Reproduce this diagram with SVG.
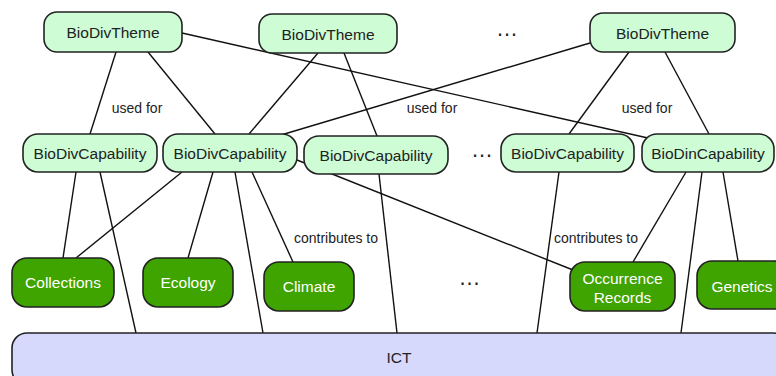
<svg xmlns="http://www.w3.org/2000/svg" width="776" height="376" viewBox="0 0 776 376">
<style>
.lt{fill:#cdfcd5;stroke:#222;stroke-width:1.6}
.dk{fill:#3fa300;stroke:#222;stroke-width:1.6}
.ict{fill:#d6d8fc;stroke:#222;stroke-width:1.6}
text{font-family:"Liberation Sans",Arial,sans-serif;text-anchor:middle}
.t{font-size:15.5px;fill:#222}
.w{font-size:15.5px;fill:#fff}
.lbl{font-size:14px;fill:#222}
.dots{font-size:22px;fill:#222}
#connectors line{stroke:#111;stroke-width:1.4}
</style>
<rect width="776" height="376" fill="#fff"/>
<g id="connectors">
<line x1="116" y1="52" x2="90" y2="134"/>
<line x1="148" y1="52" x2="215" y2="134"/>
<line x1="182" y1="33" x2="648" y2="138"/>
<line x1="318" y1="53" x2="249" y2="134"/>
<line x1="344" y1="53" x2="377" y2="136"/>
<line x1="590" y1="43" x2="281" y2="135"/>
<line x1="629" y1="52" x2="569" y2="134"/>
<line x1="665" y1="52" x2="709" y2="134"/>
<line x1="76" y1="172" x2="63" y2="258"/>
<line x1="100" y1="172" x2="136" y2="333"/>
<line x1="182" y1="172" x2="76" y2="258"/>
<line x1="213" y1="172" x2="188" y2="258"/>
<line x1="235" y1="172" x2="263" y2="333"/>
<line x1="252" y1="172" x2="293" y2="262"/>
<line x1="297" y1="160" x2="573" y2="270"/>
<line x1="379" y1="174" x2="397" y2="333"/>
<line x1="559" y1="172" x2="537" y2="333"/>
<line x1="686" y1="172" x2="633" y2="262"/>
<line x1="702" y1="172" x2="681" y2="333"/>
<line x1="723" y1="172" x2="738" y2="261"/>
</g>
<g id="labels">
<text class="lbl" x="137" y="113">used for</text>
<text class="lbl" x="432" y="113">used for</text>
<text class="lbl" x="647" y="113">used for</text>
<text class="lbl" x="336" y="243">contributes to</text>
<text class="lbl" x="596" y="243">contributes to</text>
<text class="dots" x="507" y="36">…</text>
<text class="dots" x="482" y="157">…</text>
<text class="dots" x="469.5" y="285">…</text>
</g>
<g id="theme1"><rect class="lt" x="44" y="12" width="138" height="40" rx="13"/><text class="t" x="113" y="38">BioDivTheme</text></g>
<g id="theme2"><rect class="lt" x="259" y="14" width="138" height="39" rx="13"/><text class="t" x="328" y="39.5">BioDivTheme</text></g>
<g id="theme3"><rect class="lt" x="590" y="13" width="145" height="39" rx="13"/><text class="t" x="662.5" y="38.5">BioDivTheme</text></g>
<g id="cap1"><rect class="lt" x="23" y="134" width="134" height="38" rx="15"/><text class="t" x="90" y="159">BioDivCapability</text></g>
<g id="cap2"><rect class="lt" x="163" y="134" width="134" height="38" rx="15"/><text class="t" x="230" y="159">BioDivCapability</text></g>
<g id="cap3"><rect class="lt" x="304" y="136" width="144" height="38" rx="15"/><text class="t" x="376" y="161">BioDivCapability</text></g>
<g id="cap4"><rect class="lt" x="501" y="134" width="133" height="38" rx="15"/><text class="t" x="567.5" y="159">BioDivCapability</text></g>
<g id="cap5"><rect class="lt" x="642" y="134" width="132" height="38" rx="15"/><text class="t" x="708" y="159">BioDinCapability</text></g>
<g id="collections"><rect class="dk" x="12" y="258" width="102" height="49" rx="15"/><text class="w" x="63" y="288">Collections</text></g>
<g id="ecology"><rect class="dk" x="143" y="258" width="90" height="49" rx="15"/><text class="w" x="188" y="288">Ecology</text></g>
<g id="climate"><rect class="dk" x="264" y="262" width="90" height="49" rx="15"/><text class="w" x="309" y="292">Climate</text></g>
<g id="occurrence"><rect class="dk" x="570" y="262" width="105" height="49" rx="15"/><text class="w" x="622.5" y="284">Occurrence</text><text class="w" x="622.5" y="303">Records</text></g>
<g id="genetics"><rect class="dk" x="697" y="261" width="92" height="48" rx="15"/><text class="w" x="742" y="292">Genetics</text></g>
<g id="ict"><rect class="ict" x="12" y="333" width="776" height="52" rx="15"/><text class="t" x="399" y="363">ICT</text></g>
</svg>
